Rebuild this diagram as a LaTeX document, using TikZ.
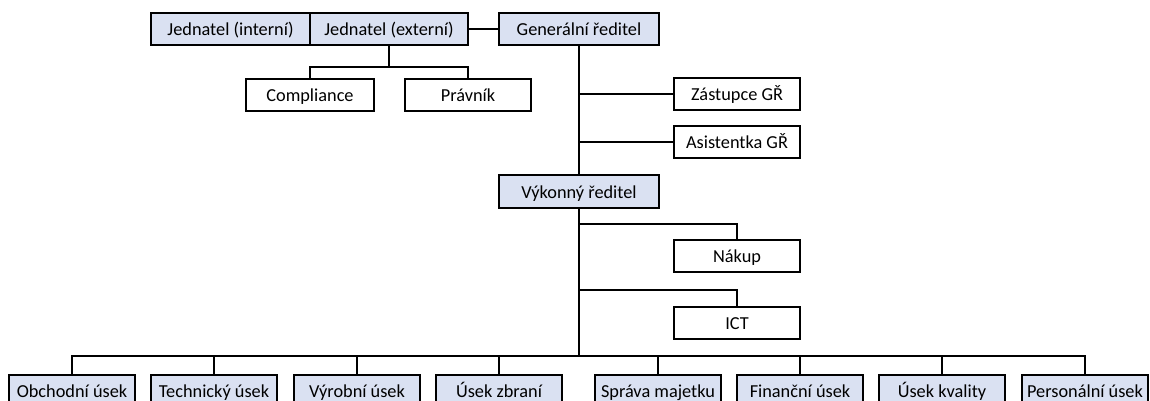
\documentclass[tikz,border=0pt]{standalone}
\usepackage{fontspec}
\setmainfont{Carlito}
\definecolor{boxblue}{RGB}{218,225,242}
\begin{document}
\begin{tikzpicture}[x=1pt,y=-1pt,
  every node/.style={font=\fontsize{18.3}{20}\selectfont, text height=17pt, text depth=3.5pt},
  base/.style={draw=black, line width=1.8pt, inner sep=0pt, outer sep=0pt, anchor=center},
  bluebox/.style={base, fill=boxblue},
  whitebox/.style={base, fill=white},
  conn/.style={line width=1.9pt}]
\useasboundingbox (0,0) rectangle (1150,401);
\clip (0,0) rectangle (1150,401);
% nodes
\node[bluebox, minimum width=159pt, minimum height=32pt] (interni) at (230.5,29) {Jednatel (interní)};
\node[bluebox, minimum width=158pt, minimum height=32pt] (externi) at (389,29) {Jednatel (externí)};
\node[bluebox, minimum width=160pt, minimum height=32pt] (gr) at (579,29) {Generální ředitel};
\node[whitebox, minimum width=128pt, minimum height=32pt] (compliance) at (310,95) {Compliance};
\node[whitebox, minimum width=126pt, minimum height=32pt] (pravnik) at (468,95) {Právník};
\node[whitebox, minimum width=126pt, minimum height=32pt] (zastupce) at (737,94) {Zástupce GŘ};
\node[whitebox, minimum width=126pt, minimum height=32pt] (asistentka) at (737,142) {Asistentka GŘ};
\node[bluebox, minimum width=160pt, minimum height=33pt] (vykonny) at (579,191.5) {Výkonný ředitel};
\node[whitebox, minimum width=126pt, minimum height=32pt] (nakup) at (737,256) {Nákup};
\node[whitebox, minimum width=126pt, minimum height=32pt] (ict) at (737,323) {ICT};
\foreach \name/\cx/\txt in {obchodni/72/Obchodní úsek, technicky/214/Technický úsek, vyrobni/357/Výrobní úsek, zbrani/499/Úsek zbraní, sprava/658/Správa majetku, financni/800/Finanční úsek, kvalita/942/Úsek kvality, personalni/1085/Personální úsek}
  \node[bluebox, minimum width=126pt, minimum height=32pt] (\name) at (\cx,391) {\txt};
% connector coordinates
\coordinate (eb) at (389,67);
\coordinate (nb) at (579,224);
\coordinate (ib) at (579,290);
\coordinate (bus) at (579,356);
% connectors
\draw[conn] (externi.east) -- (gr.west);
\draw[conn] (externi.south) -- (eb);
\draw[conn] (compliance.north) |- (eb) -| (pravnik.north);
\draw[conn] (gr.south) -- (vykonny.north);
\draw[conn] (gr.south |- zastupce.west) -- (zastupce.west);
\draw[conn] (gr.south |- asistentka.west) -- (asistentka.west);
\draw[conn] (vykonny.south) -- (bus);
\draw[conn] (nb) -| (nakup.north);
\draw[conn] (ib) -| (ict.north);
\draw[conn] (obchodni.north) |- (bus) -| (personalni.north);
\foreach \name in {technicky,vyrobni,zbrani,sprava,financni,kvalita}
  \draw[conn] (\name.north) -- (\name.north |- bus);
\end{tikzpicture}
\end{document}
